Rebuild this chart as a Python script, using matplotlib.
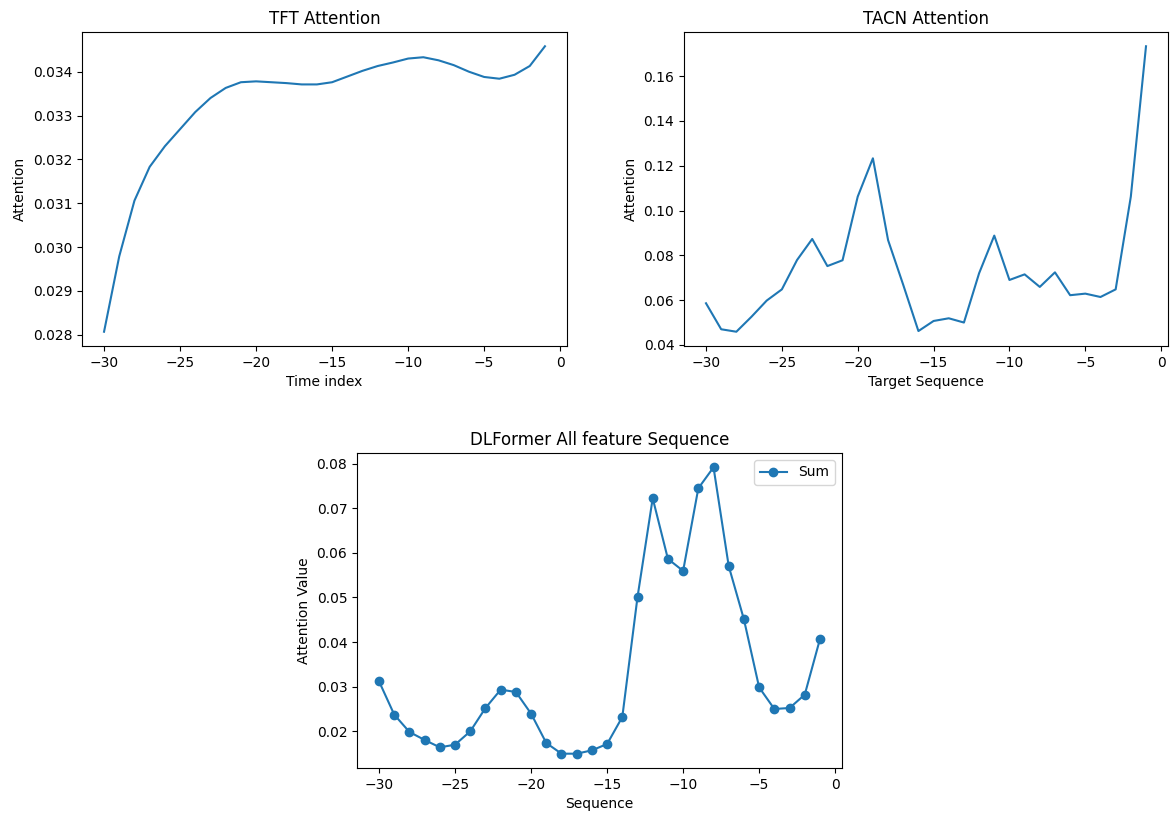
import matplotlib
matplotlib.use("Agg")
import matplotlib.pyplot as plt
import numpy as np

# x positions
steps = list(range(-30, 0))

tft_attention = [0.02807, 0.02979, 0.03106, 0.03183, 0.03230, 0.03269, 0.03308, 0.03340,
                 0.03363, 0.03376, 0.03378, 0.03376, 0.03374, 0.03371, 0.03371, 0.03376,
                 0.03389, 0.03402, 0.03413, 0.03421, 0.03430, 0.03433, 0.03426, 0.03415,
                 0.03400, 0.03388, 0.03384, 0.03393, 0.03413, 0.03458]

tacn_attention = [0.0586, 0.0470, 0.0459, 0.0526, 0.0598, 0.0648, 0.0779, 0.0873,
                  0.0752, 0.0778, 0.1062, 0.1233, 0.0868, 0.0668, 0.0462, 0.0507,
                  0.0519, 0.0500, 0.0720, 0.0888, 0.0690, 0.0715, 0.0659, 0.0724,
                  0.0622, 0.0629, 0.0614, 0.0648, 0.1062, 0.1733]

dlformer_sum = [0.0312, 0.02374, 0.01985, 0.01806, 0.01641, 0.01701, 0.0200, 0.02523,
                0.02934, 0.02882, 0.02396, 0.01738, 0.01499, 0.01499, 0.01574, 0.01716,
                0.02321, 0.0501, 0.07224, 0.05865, 0.05596, 0.07448, 0.07918, 0.05703,
                0.04508, 0.02985, 0.02501, 0.02523, 0.02822, 0.04067]

W, H = 1172, 816
fig = plt.figure(figsize=(W / 100, H / 100), dpi=100)

def box(l, t, r, b):
    return [l / W, 1 - b / H, (r - l) / W, (b - t) / H]

ax1 = fig.add_axes(box(82, 32, 567, 346))
ax1.plot(steps, tft_attention)
ax1.set_title("TFT Attention")
ax1.set_xlabel("Time index")
ax1.set_ylabel("Attention")
ax1.set_xticks([-30, -25, -20, -15, -10, -5, 0])

ax2 = fig.add_axes(box(684, 32, 1168, 346))
ax2.plot(steps, tacn_attention)
ax2.set_title("TACN Attention")
ax2.set_xlabel("Target Sequence")
ax2.set_ylabel("Attention")
ax2.set_xticks([-30, -25, -20, -15, -10, -5, 0])

ax3 = fig.add_axes(box(357, 453, 842, 768))
ax3.plot(steps, dlformer_sum, marker="o", label="Sum")
ax3.set_title("DLFormer All feature Sequence")
ax3.set_xlabel("Sequence")
ax3.set_ylabel("Attention Value")
ax3.set_xticks([-30, -25, -20, -15, -10, -5, 0])
ax3.legend(loc="upper right")

fig.savefig("out.png", dpi=100)
